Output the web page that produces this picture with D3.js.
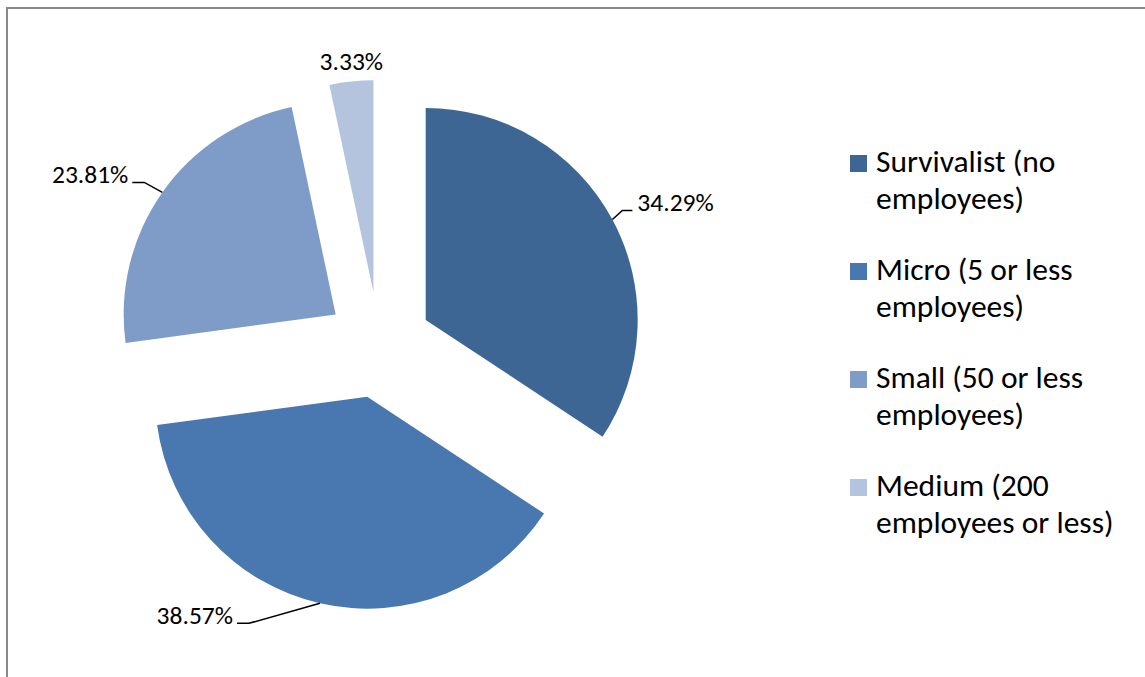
<!DOCTYPE html>
<html>
<head>
<meta charset="utf-8">
<script src="https://cdn.jsdelivr.net/npm/d3@7"></script>
<style>
  html, body { margin: 0; padding: 0; background: #fff; }
  svg { display: block; }
  text { font-family: Carlito, Calibri, Lato, "Open Sans", sans-serif; fill: #000; }
</style>
</head>
<body>
<svg id="chart" width="1145" height="677"></svg>
<script>
// Business size distribution
const categories = [
  ["Survivalist (no", "employees)"],
  ["Micro (5 or less", "employees)"],
  ["Small (50 or less", "employees)"],
  ["Medium (200", "employees or less)"]
];
const shares = [34.29, 38.57, 23.81, 3.33];
const valueLabels = ["34.29%", "38.57%", "23.81%", "3.33%"];
const colors = ["#3e6695", "#4977b0", "#7e9cc7", "#b5c4de"];

// Label layout: elbow offset from the slice edge, horizontal leader length,
// or null elbow for a label set directly above the slice.
const labelLayout = [
  { elbow: [10, -9], tail: 10, anchor: "start" },
  { elbow: [-71, 20], tail: -12, anchor: "end" },
  { elbow: [-18, -10], tail: -12, anchor: "end" },
  { elbow: null }
];

const svg = d3.select("#chart");
const W = 1145, H = 677;

// chart frame
svg.append("rect")
  .attr("x", 7).attr("y", 8)
  .attr("width", W + 20).attr("height", H + 20)
  .attr("fill", "#fff")
  .attr("stroke", "#8a8a8a")
  .attr("stroke-width", 2);

const cx = 379, cy = 345, radius = 212, explode = 53;

const pie = d3.pie().sort(null).value(d => d)(shares);
const arc = d3.arc().innerRadius(0).outerRadius(radius);

const g = svg.append("g").attr("transform", `translate(${cx},${cy})`);

const slices = g.selectAll("g.slice")
  .data(pie)
  .join("g")
  .attr("class", "slice")
  .attr("transform", d => {
    const a = (d.startAngle + d.endAngle) / 2;
    return `translate(${explode * Math.sin(a)},${-explode * Math.cos(a)})`;
  });

slices.append("path")
  .attr("d", arc)
  .attr("fill", (d, i) => colors[i]);

// data labels with leader lines
slices.each(function(d, i) {
  const sel = d3.select(this);
  const a = (d.startAngle + d.endAngle) / 2;
  const px = radius * Math.sin(a), py = -radius * Math.cos(a);
  const L = labelLayout[i];
  if (!L.elbow) {
    sel.append("text")
      .attr("x", px).attr("y", py - 11)
      .attr("text-anchor", "middle")
      .style("font-size", "25.5px")
      .text(valueLabels[i]);
    return;
  }
  const ex = px + L.elbow[0], ey = py + L.elbow[1];
  const tx = ex + L.tail;
  sel.append("path")
    .attr("d", `M${px},${py}L${ex},${ey}L${tx},${ey}`)
    .attr("fill", "none")
    .attr("stroke", "#000")
    .attr("stroke-width", 1.5);
  sel.append("text")
    .attr("x", tx + (L.anchor === "start" ? 5 : -4))
    .attr("y", ey + 1)
    .attr("text-anchor", L.anchor)
    .style("font-size", "25.5px")
    .text(valueLabels[i]);
});

// legend
const legend = svg.append("g").attr("transform", "translate(850,155)");
const items = legend.selectAll("g.item")
  .data(categories)
  .join("g")
  .attr("class", "item")
  .attr("transform", (d, i) => `translate(0,${i * 108})`);

items.append("rect")
  .attr("width", 17).attr("height", 17)
  .attr("fill", (d, i) => colors[i]);

items.append("text")
  .attr("x", 26).attr("y", 17)
  .style("font-size", "31.5px")
  .selectAll("tspan")
  .data(d => d)
  .join("tspan")
  .attr("x", 26)
  .attr("dy", (d, j) => j === 0 ? 0 : 37)
  .text(d => d);
</script>
</body>
</html>
